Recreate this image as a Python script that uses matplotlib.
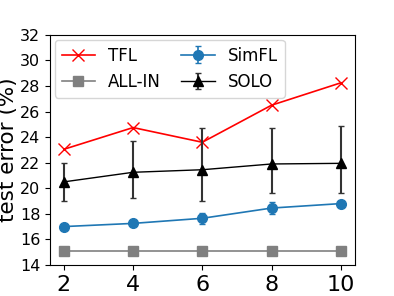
import matplotlib
matplotlib.use("Agg")
import matplotlib.pyplot as plt

# --- data ---
x = [2, 4, 6, 8, 10]
tfl = [23.05, 24.75, 23.6, 26.5, 28.25]
allin = [15.1, 15.1, 15.1, 15.1, 15.1]
simfl = [17.0, 17.25, 17.65, 18.45, 18.8]
simfl_err = [0.1, 0.15, 0.45, 0.45, 0.15]
solo = [20.5, 21.25, 21.45, 21.9, 21.95]
solo_lo = [1.5, 2.05, 2.45, 2.25, 2.35]
solo_hi = [1.5, 2.45, 3.25, 2.8, 2.95]

fig, ax = plt.subplots(figsize=(3.94, 2.96), dpi=100)

ax.plot(x, tfl, color="red", marker="x", markersize=8, linewidth=1.2, label="TFL")
ax.plot(x, allin, color="gray", marker="s", markersize=7, linewidth=1.2, label="ALL-IN")
ax.errorbar(x, simfl, yerr=simfl_err, color="tab:blue", marker="o", markersize=7,
            linewidth=1.2, capsize=2, label="SimFL")
ax.errorbar(x, solo, yerr=[solo_lo, solo_hi], color="black", marker="^", markersize=7,
            linewidth=1.0, ecolor="#333333", elinewidth=1.5, capsize=2, label="SOLO")

ax.set_ylim(14, 32)
ax.set_yticks(range(14, 33, 2))
ax.set_xticks(x)
ax.tick_params(axis="x", labelsize=16)
ax.tick_params(axis="y", labelsize=11.5)
ax.set_ylabel("test error (%)", fontsize=15.5, labelpad=1)
ax.legend(ncol=2, fontsize=12, loc="upper left", handlelength=2.0,
          columnspacing=1.2, borderaxespad=0.3)

fig.subplots_adjust(left=0.127, right=0.9, top=0.882, bottom=0.105)
fig.savefig("out.png", dpi=100)
